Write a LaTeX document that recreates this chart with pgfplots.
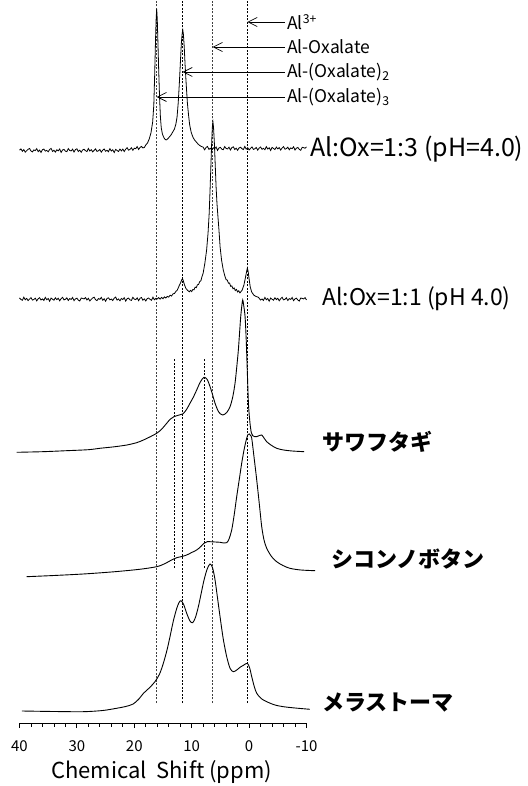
\documentclass[border=0pt]{standalone}
\usepackage{fontspec}
\setmainfont{Noto Sans CJK JP}
\usepackage{pgfplots}
\pgfplotsset{compat=1.18}
\usetikzlibrary{arrows.meta}
\begin{document}
\begin{tikzpicture}
\begin{axis}[name=ax, scale only axis, width=287pt, height=723pt,
  xmin=-10, xmax=40, x dir=reverse, ymin=2, ymax=725,
  axis y line=none, axis x line=bottom, x axis line style={-, line width=0.9pt},
  xtick={-10,0,10,20,30,40}, minor x tick num=4, tick align=outside,
  major tick length=5pt, minor tick length=3.5pt,
  every tick/.style={black, line width=0.8pt},
  clip=false, /pgf/number format/assume math mode=true,
  xticklabel style={font=\fontsize{15}{15}\selectfont, yshift=-9pt},
]
% reference lines
\addplot[black!75, line width=0.7pt, dash pattern=on 2pt off 1.5pt] coordinates {(16.1,22) (16.1,725)};
\addplot[black, line width=0.6pt, dash pattern=on 2pt off 1.5pt] coordinates {(11.6,22) (11.6,725)};
\addplot[black!75, line width=0.7pt, dash pattern=on 2pt off 1.5pt] coordinates {(6.35,22) (6.35,725)};
\addplot[black, line width=0.6pt, dash pattern=on 2pt off 1.5pt] coordinates {(0.3,22) (0.3,725)};
\addplot[black, line width=0.6pt, dash pattern=on 2pt off 1.5pt] coordinates {(13.08,157) (13.08,367)};
\addplot[black, line width=0.6pt, dash pattern=on 2pt off 1.5pt] coordinates {(7.85,157) (7.85,367)};
% Al:Ox = 1:3
\addplot[black, line width=0.8pt] coordinates {
(40,574.8) (39.75,576.1) (39.5,573.7) (39.25,575.4) (39,572.8) (38.75,574.3) (38.5,575.7) (38.25,576.5) (38,574.0) (37.75,573.1)
(37.5,575.1) (37.25,574.4) (37,576.3) (36.75,573.4) (36.5,574.9) (36.25,572.5) (36,575.3) (35.75,575.9) (35.5,573.9) (35.25,574.6)
(35,573.2) (34.75,575.5) (34.5,576.6) (34.25,573.6) (34,574.7) (33.75,572.9) (33.5,575.2) (33.25,574.2) (33,576.0) (32.75,572.6)
(32.5,575.0) (32.25,575.6) (32,573.8) (31.75,573.3) (31.5,576.4) (31.25,574.5) (31,574.1) (30.75,575.8) (30.5,573.0) (30.25,575.4)
(30,576.2) (29.75,573.5) (29.5,574.8) (29.25,572.7) (29,575.1) (28.75,575.7) (28.5,574.3) (28.25,573.4) (28,576.5) (27.75,573.9)
(27.5,575.3) (27.25,573.1) (27,574.6) (26.75,576.1) (26.5,573.6) (26.25,574.2) (26,575.5) (25.75,572.8) (25.5,574.9) (25.25,576.0)
(25,573.7) (24.75,574.7) (24.5,573.3) (24.25,576.3) (24,574.0) (23.75,575.2) (23.5,572.5) (23.25,575.6) (23,574.5) (22.75,573.5)
(22.5,575.9) (22.25,574.1) (22,575.9) (21.75,573.5) (21.5,575.8) (21.25,577.3) (21,574.8) (20.75,575.6) (20.5,577.2) (20.25,574.7)
(20,576.8) (19.75,576.3) (19.5,578.4) (19.25,575.5) (19,577.5) (18.75,578.6) (18.5,577.1) (18.25,577.5)
(18.0,580.0) (17.7,582) (17.4,586) (17.1,592) (16.8,603) (16.6,620) (16.45,650) (16.3,685) (16.2,705) (16.1,716) (16.0,706) (15.9,686)
(15.75,655) (15.6,628) (15.45,608) (15.3,597) (15.1,591) (14.9,588) (14.7,586) (14.45,585) (14.2,586) (13.9,588) (13.6,590)
(13.3,593) (13.0,596) (12.75,601) (12.55,608) (12.35,622) (12.15,642) (11.95,665) (11.8,682) (11.65,692) (11.55,695) (11.45,691)
(11.3,678) (11.15,660) (10.95,640) (10.75,622) (10.55,610) (10.35,600) (10.1,593) (9.8,588) (9.5,585) (9.2,583) (8.9,581)
(8.6,579.5) (8.3,578.5) (8.0,577.8)
(7.75,575.2) (7.5,577.5) (7.25,578.6) (7,575.6) (6.75,576.7) (6.5,574.9) (6.25,577.2) (6,576.2) (5.75,578.0) (5.5,574.6)
(5.25,577.0) (5,577.6) (4.75,575.8) (4.5,575.3) (4.25,578.4) (4,576.5) (3.75,576.1) (3.5,577.8) (3.25,575.0) (3,577.4)
(2.75,578.2) (2.5,575.5) (2.25,576.8) (2,574.7) (1.75,577.1) (1.5,577.7) (1.25,576.3) (1,575.4) (0.75,578.5) (0.5,575.9)
(0.25,577.3) (0,575.1) (-0.25,576.6) (-0.5,578.1) (-0.75,575.6) (-1,576.2) (-1.25,577.5) (-1.5,574.8) (-1.75,576.9) (-2,578.0)
(-2.25,575.7) (-2.5,576.7) (-2.75,575.3) (-3,578.3) (-3.25,576.0) (-3.5,577.2) (-3.75,574.5) (-4,577.6) (-4.25,576.5) (-4.5,575.5)
(-4.75,577.9) (-5,576.1) (-5.25,577.4) (-5.5,574.9) (-5.75,577.0) (-6,578.4) (-6.25,575.8) (-6.5,576.4) (-6.75,577.8) (-7,575.2)
(-7.25,577.1) (-7.5,576.3) (-7.75,578.2) (-8,575.0) (-8.25,576.8) (-8.5,577.5) (-8.75,575.6) (-9,574.7) (-9.25,577.7) (-9.5,577.3)
(-9.75,576.8) (-10,578.1)
};
% Al:Ox = 1:1
\addplot[black, line width=0.8pt] coordinates {
(40,427.0) (39.75,425.6) (39.5,424.7) (39.25,427.8) (39,425.2) (38.75,426.6) (38.5,424.4) (38.25,425.9) (38,427.4) (37.75,424.9)
(37.5,425.5) (37.25,426.8) (37,424.1) (36.75,426.2) (36.5,427.3) (36.25,425.0) (36,426.0) (35.75,424.6) (35.5,427.6) (35.25,425.3)
(35,426.5) (34.75,423.8) (34.5,426.9) (34.25,425.8) (34,424.8) (33.75,427.2) (33.5,425.4) (33.25,426.7) (33,424.2) (32.75,426.3)
(32.5,427.7) (32.25,425.1) (32,425.7) (31.75,427.1) (31.5,424.5) (31.25,426.4) (31,425.6) (30.75,427.5) (30.5,424.3) (30.25,426.1)
(30,426.8) (29.75,424.9) (29.5,424.0) (29.25,427.0) (29,426.6)
(28.75,426.1) (28.5,427.4) (28.25,425.0) (28,426.7) (27.75,424.1) (27.5,425.6) (27.25,427.0) (27,427.8) (26.75,425.3) (26.5,424.4)
(26.25,426.4) (26,425.7) (25.75,427.6) (25.5,424.7) (25.25,426.2) (25,423.8) (24.75,426.6) (24.5,427.2) (24.25,425.2) (24,425.9)
(23.75,424.5) (23.5,426.8) (23.25,427.9) (23,424.9) (22.75,426.0) (22.5,424.2) (22.25,426.5) (22,425.5) (21.75,427.3) (21.5,423.9)
(21.25,426.3) (21,426.9) (20.75,425.1) (20.5,424.6) (20.25,427.7) (20,425.8) (19.75,425.4) (19.5,427.1) (19.25,424.3) (19,426.7)
(18.75,427.5) (18.5,424.8) (18.25,426.1) (18,424.0) (17.75,426.4) (17.5,427.0) (17.25,425.6) (17,424.7) (16.75,427.8) (16.5,425.2)
(16.25,426.6)
(16.0,426.0) (15.75,427.4) (15.5,425.9) (15.25,427.6) (15.0,426.3) (14.75,428.1) (14.5,427.0) (14.25,428.6) (14.0,427.9) (13.75,429.8)
(13.5,429.0) (13.25,431.2) (13.0,431.5) (12.75,433.6) (12.5,435.0)
(12.2,439) (11.95,442) (11.75,445) (11.6,446.5) (11.45,444) (11.25,440) (11.0,436.5) (10.7,434.5) (10.4,433.2) (10.2,434.6)
(10.0,433.4) (9.8,435.5) (9.6,435.2) (9.4,437.8) (9.2,437.4) (9.0,440.2) (8.8,440.6) (8.6,443.4) (8.4,444.2) (8.2,448.5)
(8.0,452) (7.7,462) (7.4,475) (7.15,492) (6.95,512) (6.8,535)
(6.65,560) (6.5,585) (6.4,598) (6.3,603) (6.2,598) (6.05,582) (5.9,560) (5.75,538) (5.6,522) (5.45,510) (5.25,495)
(5.05,478) (4.8,465) (4.5,455) (4.2,448.5) (4.0,445.2) (3.8,445.0) (3.6,441.8) (3.4,441.9) (3.2,438.6) (3.0,439.1) (2.8,436.2)
(2.6,437.0) (2.4,434.4) (2.2,435.6) (2.0,433.0) (1.8,434.2) (1.6,432.1) (1.4,433.5)
(1.2,435) (0.9,440) (0.65,447) (0.45,453) (0.3,457) (0.15,453) (0.0,446) (-0.2,438) (-0.45,433) (-0.8,430) (-1.2,428.5)
(-1.6,427.8)
(-2,425.0) (-2.25,426.0) (-2.5,424.6) (-2.75,427.6) (-3,425.3) (-3.25,426.5) (-3.5,423.8) (-3.75,426.9) (-4,425.8) (-4.25,424.8)
(-4.5,427.2) (-4.75,425.4) (-5,426.7) (-5.25,424.2) (-5.5,426.3) (-5.75,427.7) (-6,425.1) (-6.25,425.7) (-6.5,427.1) (-6.75,424.5)
(-7,426.4) (-7.25,425.6) (-7.5,427.5) (-7.75,424.3) (-8,426.1) (-8.25,426.8) (-8.5,424.9) (-8.75,424.0) (-9,427.0) (-9.25,426.6)
(-9.5,426.1) (-9.75,427.4) (-10,425.0)
};
% sawafutagi
\addplot[black, line width=0.9pt, smooth, tension=0.5] coordinates {
(40.5,272.7) (36,273.3) (31.8,274.3) (28,275.3) (26,276.7) (23.5,278.2) (21.3,280) (19.6,282.3) (18.4,285) (17.2,288.3)
(16.1,291.7) (15.2,296) (14.36,301.7) (13.7,306) (13.08,308.3) (12.3,309.8) (11.57,311) (10.9,315.5) (10.3,321.7) (9.7,328)
(9.13,335) (8.5,343) (7.85,347.7) (7.3,345.5) (6.8,338.3) (6.35,330) (5.93,321.7) (5.3,313) (4.6,310) (3.9,312.5)
(3.32,318.3) (2.85,328) (2.45,341.7) (2.15,358) (1.87,375) (1.65,393) (1.46,408.3) (1.25,420) (1.11,425) (0.95,420)
(0.7,408.3) (0.5,385) (0.3,351.7) (0.1,320) (-0.16,301.7) (-0.4,292) (-0.63,289.3) (-1.0,288.3) (-1.33,288.3) (-1.8,289.5)
(-2.2,290) (-2.6,287) (-3.07,283.3) (-3.8,280) (-4.8,276.7) (-6,275) (-7.5,274) (-9.6,273.3)
};
% shikonnobotan
\addplot[black, line width=0.9pt, smooth, tension=0.5] coordinates {
(38.75,148.3) (34,149.5) (28.9,151) (24,153) (20.2,155) (18,156.5) (16.1,158.3) (15.2,160) (14.36,162.3) (13.5,165)
(12.6,167.3) (11.7,168.5) (10.87,170) (10,172.5) (9.13,175) (8.4,178.5) (7.85,181.7) (7.3,183.3) (6.8,183.3) (5.9,183)
(5.06,182.7) (4.4,182) (3.9,182.3) (3.5,186) (3.03,195) (2.6,210) (2.16,228.3) (1.7,246) (1.29,261.7) (0.85,276)
(0.42,286.7) (0.18,290.5) (-0.05,291) (-0.25,289.5) (-0.46,286.7) (-0.9,266) (-1.33,245) (-1.8,220) (-2.2,198.3) (-2.6,185)
(-3.07,176.7) (-3.9,168.5) (-4.8,163.3) (-5.9,159.5) (-7.1,156.7) (-9,155) (-11.5,154.3)
};
% melastoma
\addplot[black, line width=0.9pt, smooth, tension=0.5] coordinates {
(39.6,14) (34,13.5) (28.9,13.3) (25.5,14.5) (23.1,16.7) (21.5,18.5) (20.2,21) (19.2,26) (18.4,31.7) (17.4,37)
(16.4,43.3) (15.6,51) (14.94,61.7) (14.3,75) (13.78,88.3) (13.2,104) (12.6,116.7) (12.2,122.5) (11.86,124.3) (11.4,120.5)
(10.87,111.7) (10.3,104) (9.83,102.3) (9.35,107.5) (8.84,118.3) (8.35,131.5) (7.85,145) (7.3,156) (6.8,161) (6.35,157)
(5.93,145) (5.5,127) (5.06,108.3) (4.5,86) (3.9,68.3) (3.3,56.5) (2.74,53.3) (2.15,55) (1.58,57.7) (0.9,60)
(0.3,61.7) (-0.1,57) (-0.46,48.3) (-0.9,38.5) (-1.33,31.7) (-2.1,26.5) (-3.07,23.3) (-4.5,20) (-5.98,18.3) (-8,17) (-10.6,15.7)
};
% annotation arrows
\draw[line width=0.7pt, -{Straight Barb[length=9pt,width=9pt]}] (axis cs:-6.25,703) -- (axis cs:0.3,703);
\draw[line width=0.7pt, -{Straight Barb[length=9pt,width=9pt]}] (axis cs:-6.25,678) -- (axis cs:6.35,678);
\draw[line width=0.7pt, -{Straight Barb[length=9pt,width=9pt]}] (axis cs:-6.25,653) -- (axis cs:11.6,653);
\draw[line width=0.7pt, -{Straight Barb[length=9pt,width=9pt]}] (axis cs:-6.25,628) -- (axis cs:16.1,628);
\begin{scope}[every node/.style={anchor=west, inner sep=0pt, font=\fontsize{17.5}{17.5}\selectfont}]
\node at (axis cs:-6.6,703) {Al\textsuperscript{3+}};
\node at (axis cs:-6.6,678) {Al-Oxalate};
\node at (axis cs:-6.6,653) {Al-(Oxalate)\textsubscript{2}};
\node at (axis cs:-6.6,628) {Al-(Oxalate)\textsubscript{3}};
\end{scope}
\node[anchor=west, inner sep=0pt, font=\fontsize{25}{25}\selectfont] at (axis cs:-10.6,576) {Al:Ox=1:3 (pH=4.0)};
\node[anchor=west, inner sep=0pt, font=\fontsize{23}{23}\selectfont] at (axis cs:-12.7,426) {Al:Ox=1:1 (pH 4.0)};
\begin{scope}[every node/.style={anchor=west, inner sep=0pt, font=\fontsize{22}{22}\selectfont\bfseries}]
\node at (axis cs:-12.7,283) {サワフタギ};
\node at (axis cs:-14.4,166) {シコンノボタン};
\node at (axis cs:-12.7,22) {メラストーマ};
\end{scope}
\node[font=\fontsize{22}{22}\selectfont, inner sep=0pt] at (axis cs:15.26,-47) {Chemical\ \ Shift (ppm)};
\end{axis}
\pgfresetboundingbox
\path[use as bounding box] ([shift={(-19.5pt,-63pt)}]ax.south west) rectangle ([shift={(221.5pt,0pt)}]ax.north east);
\end{tikzpicture}
\end{document}
